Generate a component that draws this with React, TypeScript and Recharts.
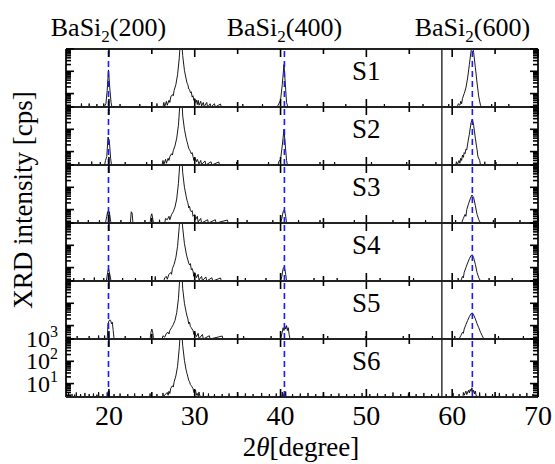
import React from 'react'
import { LineChart, Line, XAxis, YAxis, ReferenceLine } from 'recharts'

// XRD scans, [2theta (deg), intensity (cps)]
const S1: [number, number][] = [
  [15.2, 2.5], [16.0, 2.5], [16.76, 2.5], [16.8, 3.6], [16.84, 2.5], [17.66, 2.5], [17.7, 3.6], [17.74, 2.5], [18.56, 2.5], [18.6, 3.4],
  [18.64, 2.5], [19.36, 2.5], [19.4, 3.6], [19.44, 2.5], [19.65, 3.5], [19.8, 14], [19.95, 115], [20.1, 18], [20.25, 4], [20.35, 2.5],
  [21.26, 2.5], [21.3, 3.4], [21.34, 2.5], [23.56, 2.5], [23.6, 3.4], [23.64, 2.5], [25.56, 2.5], [25.6, 3.6], [25.64, 2.5],
  [26.3, 2.5], [26.4, 4], [26.5, 2.6], [26.7, 4.5], [26.8, 3], [27.0, 5], [27.1, 4], [27.2, 7], [27.4, 9], [27.5, 8], [27.6, 14],
  [27.8, 25], [28.0, 70], [28.2, 400], [28.4, 6000], [28.6, 500], [28.8, 110], [29.0, 45], [29.1, 30], [29.2, 25], [29.3, 16],
  [29.4, 15], [29.5, 11], [29.6, 12], [29.7, 7], [29.8, 8], [29.9, 5], [30.0, 6], [30.1, 4], [30.2, 5], [30.3, 3.2], [30.4, 5],
  [30.5, 3], [30.7, 4.5], [30.8, 2.8], [31.0, 4], [31.1, 2.6], [31.4, 4], [31.5, 2.5], [31.8, 3.5], [31.9, 2.5], [32.3, 3.5],
  [32.4, 2.5], [33.0, 3.4], [33.1, 2.5], [35.56, 2.5], [35.6, 3.4], [35.64, 2.5], [37.86, 2.5], [37.9, 3.4], [37.94, 2.5],
  [39.6, 2.5], [39.8, 3.5], [40.0, 5], [40.2, 25], [40.4, 200], [40.55, 30], [40.7, 4], [40.85, 2.5], [43.06, 2.5], [43.1, 3.4],
  [43.14, 2.5], [47.56, 2.5], [47.6, 3.4], [47.64, 2.5], [52.06, 2.5], [52.1, 3.4], [52.14, 2.5], [56.56, 2.5], [56.6, 3.4],
  [56.64, 2.5], [59.56, 2.5], [59.6, 3.4], [59.64, 2.5], [60.6, 2.5], [60.7, 3.5], [60.9, 3], [61.0, 4.5], [61.1, 3.5], [61.2, 6],
  [61.4, 10], [61.6, 18], [61.8, 50], [62.0, 200], [62.2, 800], [62.35, 1500], [62.5, 700], [62.7, 150], [62.9, 30], [63.1, 7],
  [63.3, 3], [63.5, 2.5], [64.56, 2.5], [64.6, 3.4], [64.64, 2.5], [66.56, 2.5], [66.6, 3.4], [66.64, 2.5], [69.8, 2.5],
]

const S2: [number, number][] = [
  [15.2, 2.5], [16.46, 2.5], [16.5, 3.4], [16.54, 2.5], [17.96, 2.5], [18.0, 3.6], [18.04, 2.5], [18.96, 2.5], [19.0, 3.4], [19.04, 2.5],
  [19.5, 2.5], [19.6, 4], [19.75, 6], [19.9, 45], [20.05, 30], [20.2, 5], [20.3, 2.5], [21.86, 2.5], [21.9, 3.4], [21.94, 2.5],
  [24.36, 2.5], [24.4, 3.4], [24.44, 2.5], [26.2, 2.5], [26.3, 4], [26.4, 2.6], [26.6, 4.5], [26.7, 3], [26.9, 5], [27.0, 4],
  [27.1, 6], [27.3, 8], [27.4, 7], [27.5, 11], [27.7, 18], [27.9, 40], [28.1, 150], [28.3, 2000], [28.45, 6000], [28.6, 400],
  [28.8, 100], [29.0, 40], [29.1, 28], [29.2, 20], [29.3, 14], [29.4, 12], [29.5, 10], [29.6, 8], [29.7, 9], [29.8, 6], [29.9, 4],
  [30.0, 5.5], [30.2, 3.5], [30.3, 4.5], [30.5, 2.8], [30.7, 4], [30.8, 2.6], [31.2, 3.8], [31.3, 2.5], [31.9, 3.5], [32.0, 2.5],
  [32.8, 3.4], [32.9, 2.5], [34.86, 2.5], [34.9, 3.4], [34.94, 2.5], [38.56, 2.5], [38.6, 3.4], [38.64, 2.5], [39.7, 2.5], [39.8, 3.5],
  [40.0, 4.5], [40.2, 18], [40.4, 100], [40.55, 20], [40.7, 4], [40.8, 2.5], [44.56, 2.5], [44.6, 3.4], [44.64, 2.5], [46.26, 2.5],
  [46.3, 3.4], [46.34, 2.5], [50.56, 2.5], [50.6, 3.4], [50.64, 2.5], [54.66, 2.5], [54.7, 3.4], [54.74, 2.5], [58.06, 2.5], [58.1, 3.4],
  [58.14, 2.5], [60.4, 2.5], [60.5, 3.5], [60.6, 2.6], [60.8, 4], [60.9, 3], [61.0, 5], [61.1, 4], [61.2, 7], [61.3, 5.5], [61.4, 9],
  [61.5, 8], [61.6, 13], [61.7, 12], [61.8, 22], [62.0, 60], [62.2, 200], [62.35, 290], [62.5, 150], [62.7, 40], [62.9, 12],
  [63.0, 6], [63.2, 4], [63.3, 2.5], [63.76, 2.5], [63.8, 3.5], [63.84, 2.5], [65.06, 2.5], [65.1, 3.4], [65.14, 2.5], [67.56, 2.5],
  [67.6, 3.4], [67.64, 2.5], [69.8, 2.5],
]

const S3: [number, number][] = [
  [15.2, 2.5], [16.36, 2.5], [16.4, 3.4], [16.44, 2.5], [17.56, 2.5], [17.6, 3.4], [17.64, 2.5], [18.86, 2.5], [18.9, 3.4], [18.94, 2.5],
  [19.6, 2.5], [19.75, 5], [19.85, 8], [19.95, 4], [20.05, 8], [20.2, 3], [20.3, 2.5], [21.36, 2.5], [21.4, 3.4], [21.44, 2.5],
  [22.5, 2.5], [22.6, 8], [22.7, 7], [22.8, 2.5], [24.16, 2.5], [24.2, 3.4], [24.24, 2.5], [24.8, 2.5], [24.9, 5], [25.0, 6.5],
  [25.1, 4], [25.2, 2.5], [25.86, 2.5], [25.9, 3.5], [25.94, 2.5], [26.5, 2.5], [26.6, 4], [26.8, 3.5], [27.0, 5], [27.1, 3.5],
  [27.3, 6], [27.5, 8], [27.7, 13], [27.9, 30], [28.1, 150], [28.3, 2000], [28.45, 6000], [28.6, 450], [28.8, 100], [29.0, 40],
  [29.1, 26], [29.2, 20], [29.3, 12], [29.4, 14], [29.5, 9], [29.6, 8], [29.7, 9], [29.8, 5], [30.0, 6], [30.1, 3.5], [30.3, 5],
  [30.4, 2.8], [30.7, 4], [30.8, 2.5], [31.5, 3.5], [31.6, 2.5], [32.4, 3.5], [32.5, 2.5], [33.8, 3.4], [33.9, 2.5], [36.06, 2.5],
  [36.1, 3.4], [36.14, 2.5], [39.06, 2.5], [39.1, 3.4], [39.14, 2.5], [40.0, 2.5], [40.15, 4], [40.3, 8], [40.45, 10], [40.6, 5],
  [40.7, 2.5], [42.06, 2.5], [42.1, 3.4], [42.14, 2.5], [44.56, 2.5], [44.6, 3.4], [44.64, 2.5], [48.56, 2.5], [48.6, 3.4], [48.64, 2.5],
  [53.06, 2.5], [53.1, 3.4], [53.14, 2.5], [56.86, 2.5], [56.9, 3.4], [56.94, 2.5], [60.36, 2.5], [60.4, 3.4], [60.44, 2.5],
  [61.1, 2.5], [61.3, 4], [61.5, 6], [61.6, 5], [61.7, 10], [61.9, 18], [62.1, 30], [62.3, 45], [62.5, 35], [62.7, 15], [62.9, 6],
  [63.1, 3.5], [63.3, 2.5], [64.76, 2.5], [64.8, 3.4], [64.84, 2.5], [67.86, 2.5], [67.9, 3.4], [67.94, 2.5], [69.8, 2.5],
]

const S4: [number, number][] = [
  [15.2, 2.5], [15.86, 2.5], [15.9, 3.4], [15.94, 2.5], [17.06, 2.5], [17.1, 3.4], [17.14, 2.5], [18.26, 2.5], [18.3, 3.6], [18.34, 2.5],
  [19.36, 2.5], [19.4, 3.4], [19.44, 2.5], [19.7, 2.5], [19.85, 6], [19.95, 9], [20.1, 5], [20.25, 2.5], [21.56, 2.5], [21.6, 3.4],
  [21.64, 2.5], [23.06, 2.5], [23.1, 3.4], [23.14, 2.5], [25.36, 2.5], [25.4, 4], [25.44, 2.5], [26.4, 2.5], [26.5, 3.5], [26.7, 4],
  [26.8, 3], [27.0, 5], [27.2, 6], [27.3, 5], [27.4, 9], [27.6, 14], [27.8, 28], [28.0, 90], [28.2, 700], [28.4, 6000], [28.6, 600],
  [28.8, 120], [29.0, 45], [29.1, 30], [29.2, 22], [29.3, 16], [29.4, 13], [29.5, 15], [29.6, 8], [29.7, 9], [29.8, 7], [29.9, 4],
  [30.0, 6], [30.2, 3.5], [30.4, 5], [30.5, 2.8], [30.8, 4], [30.9, 2.6], [31.3, 3.8], [31.4, 2.5], [32.0, 3.5], [32.1, 2.5],
  [33.0, 3.4], [33.1, 2.5], [35.86, 2.5], [35.9, 3.4], [35.94, 2.5], [38.26, 2.5], [38.3, 3.4], [38.34, 2.5], [40.0, 2.5], [40.15, 4],
  [40.3, 9], [40.45, 11], [40.6, 5], [40.7, 2.5], [43.86, 2.5], [43.9, 3.4], [43.94, 2.5], [46.56, 2.5], [46.6, 3.4], [46.64, 2.5],
  [51.56, 2.5], [51.6, 3.4], [51.64, 2.5], [55.46, 2.5], [55.5, 3.4], [55.54, 2.5], [60.66, 2.5], [60.7, 3.4], [60.74, 2.5],
  [61.0, 2.5], [61.2, 4], [61.3, 3.5], [61.4, 6], [61.6, 10], [61.8, 16], [62.0, 25], [62.2, 35], [62.35, 37], [62.5, 28], [62.7, 14],
  [62.9, 6], [63.1, 3.5], [63.3, 2.5], [64.26, 2.5], [64.3, 3.4], [64.34, 2.5], [66.96, 2.5], [67.0, 3.4], [67.04, 2.5], [69.8, 2.5],
]

const S5: [number, number][] = [
  [15.2, 2.5], [16.26, 2.5], [16.3, 3.4], [16.34, 2.5], [17.66, 2.5], [17.7, 3.4], [17.74, 2.5], [18.76, 2.5], [18.8, 3.6], [18.84, 2.5],
  [19.46, 2.5], [19.5, 3.6], [19.54, 2.5], [19.8, 2.5], [19.9, 12], [20.0, 16], [20.1, 18], [20.2, 17], [20.3, 12], [20.4, 14],
  [20.5, 6], [20.6, 2.5], [21.86, 2.5], [21.9, 3.4], [21.94, 2.5], [23.66, 2.5], [23.7, 3.4], [23.74, 2.5], [24.8, 2.5], [24.9, 5],
  [25.0, 7], [25.1, 5], [25.2, 2.5], [26.2, 2.5], [26.3, 3.5], [26.5, 3], [26.7, 4.5], [26.9, 5], [27.0, 4.2], [27.1, 6], [27.3, 8],
  [27.5, 11], [27.7, 17], [27.9, 38], [28.1, 160], [28.3, 2500], [28.45, 6000], [28.6, 450], [28.8, 100], [29.0, 40], [29.1, 27],
  [29.2, 20], [29.3, 12], [29.4, 14], [29.5, 9], [29.6, 8], [29.8, 6], [29.9, 4], [30.0, 5], [30.2, 3.2], [30.4, 4.5], [30.5, 2.6],
  [30.9, 4], [31.0, 2.5], [31.7, 3.5], [31.8, 2.5], [33.2, 3.4], [33.3, 2.5], [35.66, 2.5], [35.7, 3.4], [35.74, 2.5], [38.86, 2.5],
  [38.9, 3.4], [38.94, 2.5], [40.0, 2.5], [40.2, 5], [40.3, 8], [40.4, 6], [40.5, 9], [40.6, 7], [40.7, 10], [40.8, 6], [40.9, 8],
  [41.0, 4], [41.1, 2.5], [42.56, 2.5], [42.6, 3.4], [42.64, 2.5], [45.46, 2.5], [45.5, 3.4], [45.54, 2.5], [49.86, 2.5], [49.9, 3.4],
  [49.94, 2.5], [54.26, 2.5], [54.3, 3.4], [54.34, 2.5], [57.66, 2.5], [57.7, 3.4], [57.74, 2.5], [60.26, 2.5], [60.3, 3.4],
  [60.34, 2.5], [60.8, 2.5], [61.0, 3.5], [61.2, 5], [61.3, 4.5], [61.4, 7], [61.6, 11], [61.8, 17], [62.0, 25], [62.2, 34],
  [62.35, 37], [62.5, 30], [62.7, 20], [62.9, 12], [63.1, 8], [63.3, 5], [63.5, 3.5], [63.7, 2.5], [65.36, 2.5], [65.4, 3.4],
  [65.44, 2.5], [68.26, 2.5], [68.3, 3.4], [68.34, 2.5], [69.8, 2.5],
]

const S6: [number, number][] = [
  [15.1, 2.5], [15.26, 2.5], [15.3, 3.8], [15.34, 2.5], [15.66, 2.5], [15.7, 3.4], [15.74, 2.5], [15.96, 2.5], [16.0, 3.2], [16.04, 2.5],
  [16.16, 2.5], [16.2, 4], [16.24, 2.5], [16.66, 2.5], [16.7, 3.4], [16.74, 2.5], [17.16, 2.5], [17.2, 3.8], [17.24, 2.5], [17.66, 2.5],
  [17.7, 3.4], [17.74, 2.5], [18.16, 2.5], [18.2, 3.6], [18.24, 2.5], [18.56, 2.5], [18.6, 3.2], [18.64, 2.5], [18.76, 2.5], [18.8, 4.2],
  [18.84, 2.5], [19.26, 2.5], [19.3, 3.4], [19.34, 2.5], [19.76, 2.5], [19.8, 4], [19.84, 2.5], [19.96, 2.5], [20.0, 4.6], [20.04, 2.5],
  [20.56, 2.5], [20.6, 3.4], [20.64, 2.5], [21.26, 2.5], [21.3, 3.6], [21.34, 2.5], [22.16, 2.5], [22.2, 3.4], [22.24, 2.5], [22.96, 2.5],
  [23.0, 3.6], [23.04, 2.5], [23.86, 2.5], [23.9, 3.4], [23.94, 2.5], [24.76, 2.5], [24.8, 3.6], [24.84, 2.5], [25.56, 2.5], [25.6, 3.4],
  [25.64, 2.5], [26.26, 2.5], [26.3, 3.8], [26.34, 2.6], [26.8, 4], [26.9, 3], [27.0, 4.5], [27.1, 3.6], [27.2, 6], [27.4, 8],
  [27.5, 7], [27.6, 12], [27.8, 22], [28.0, 60], [28.2, 400], [28.4, 6000], [28.6, 500], [28.8, 110], [29.0, 40], [29.1, 28],
  [29.2, 20], [29.3, 14], [29.4, 12], [29.5, 9], [29.6, 8], [29.7, 7], [29.8, 6], [29.9, 4], [30.0, 4.5], [30.1, 5], [30.2, 3],
  [30.3, 3.6], [30.4, 2.8], [30.5, 4.2], [30.6, 2.7], [30.96, 2.6], [31.0, 4], [31.04, 2.5], [31.56, 2.5], [31.6, 3.6], [31.64, 2.5],
  [32.26, 2.5], [32.3, 3.4], [32.34, 2.5], [33.16, 2.5], [33.2, 3.4], [33.24, 2.5], [33.96, 2.5], [34.0, 3.6], [34.04, 2.5],
  [34.96, 2.5], [35.0, 3.4], [35.04, 2.5], [35.86, 2.5], [35.9, 3.6], [35.94, 2.5], [36.76, 2.5], [36.8, 3.4], [36.84, 2.5],
  [37.76, 2.5], [37.8, 3.8], [37.84, 2.5], [38.66, 2.5], [38.7, 3.4], [38.74, 2.5], [39.46, 2.5], [39.5, 3.6], [39.54, 2.5],
  [40.16, 2.5], [40.2, 4.2], [40.24, 2.5], [40.36, 2.5], [40.4, 3.6], [40.44, 2.5], [40.56, 2.5], [40.6, 4.4], [40.64, 2.5],
  [41.36, 2.5], [41.4, 3.4], [41.44, 2.5], [42.26, 2.5], [42.3, 3.6], [42.34, 2.5], [43.16, 2.5], [43.2, 3.8], [43.24, 2.5],
  [44.06, 2.5], [44.1, 3.4], [44.14, 2.5], [44.96, 2.5], [45.0, 4], [45.04, 2.5], [45.86, 2.5], [45.9, 3.4], [45.94, 2.5],
  [46.76, 2.5], [46.8, 3.6], [46.84, 2.5], [47.66, 2.5], [47.7, 3.4], [47.74, 2.5], [48.56, 2.5], [48.6, 3.4], [48.64, 2.5],
  [49.46, 2.5], [49.5, 3.8], [49.54, 2.5], [50.36, 2.5], [50.4, 3.4], [50.44, 2.5], [51.26, 2.5], [51.3, 3.6], [51.34, 2.5],
  [52.16, 2.5], [52.2, 3.4], [52.24, 2.5], [53.06, 2.5], [53.1, 4], [53.14, 2.5], [53.96, 2.5], [54.0, 3.4], [54.04, 2.5],
  [54.86, 2.5], [54.9, 3.6], [54.94, 2.5], [55.76, 2.5], [55.8, 3.4], [55.84, 2.5], [56.66, 2.5], [56.7, 3.8], [56.74, 2.5],
  [57.56, 2.5], [57.6, 3.4], [57.64, 2.5], [58.36, 2.5], [58.4, 3.6], [58.44, 2.5], [59.26, 2.5], [59.3, 3.4], [59.34, 2.5],
  [60.06, 2.5], [60.1, 3.8], [60.14, 2.5], [60.76, 2.5], [60.8, 3.4], [60.84, 2.5], [61.26, 2.5], [61.3, 4], [61.4, 3], [61.6, 4.6],
  [61.7, 3.2], [61.9, 5], [62.0, 3.8], [62.1, 5.5], [62.2, 4.5], [62.3, 6.5], [62.4, 4], [62.5, 5], [62.6, 3.4], [62.7, 4.6],
  [62.8, 2.8], [63.16, 2.5], [63.2, 4], [63.24, 2.5], [63.86, 2.5], [63.9, 3.6], [63.94, 2.5], [64.66, 2.5], [64.7, 3.4], [64.74, 2.5],
  [65.46, 2.5], [65.5, 3.8], [65.54, 2.5], [66.26, 2.5], [66.3, 3.4], [66.34, 2.5], [67.06, 2.5], [67.1, 3.6], [67.14, 2.5],
  [67.86, 2.5], [67.9, 3.4], [67.94, 2.5], [68.66, 2.5], [68.7, 3.8], [68.74, 2.5], [69.36, 2.5], [69.4, 3.4], [69.44, 2.5], [69.9, 2.5],
]

const samples = [S1, S2, S3, S4, S5, S6]
const sampleNames = ['S1', 'S2', 'S3', 'S4', 'S5', 'S6']

const xTicks = [20, 25, 30, 35, 40, 45, 50, 55, 60, 65, 70]
const yTicks = [3, 4, 5, 6, 7, 8, 9, 10, 20, 30, 40, 50, 60, 70, 80, 90, 100, 200, 300, 400, 500, 600, 700, 800, 900, 1000]
const yMajor = [10, 100, 1000]
const basi2Peaks = [19.95, 40.45, 62.35]
const basi2Planes = ['(200)', '(400)', '(600)']
const substrateLine = 58.8

const X_MIN = 15
const X_MAX = 70
const Y_MIN = 2.5
const Y_MAX = 1000

const W = 555
const H = 464
const PLOT_LEFT = 66
const PLOT_RIGHT = 538
const PLOT_W = PLOT_RIGHT - PLOT_LEFT
const PANEL_TOP = 49
const PANEL_H = 58
const SERIF = '"Liberation Serif", "Times New Roman", Times, serif'
const AXIS = { stroke: '#222', strokeWidth: 2 }
const TICK = { stroke: '#000', strokeWidth: 1.6 }

const xPx = (v: number) => PLOT_LEFT + ((v - X_MIN) / (X_MAX - X_MIN)) * PLOT_W

// bottom axis draws the inward ticks of both the bottom and the top edge
const xTick = (labels: boolean) => (p: any) => {
  const v = p.payload.value
  const len = v % 10 === 0 ? 8 : 5
  const top = p.y - PANEL_H
  return (
    <g>
      <line x1={p.x} y1={p.y} x2={p.x} y2={p.y - len} {...TICK} />
      <line x1={p.x} y1={top} x2={p.x} y2={top + len} {...TICK} />
      {labels && v % 10 === 0 && (
        <text x={p.x} y={p.y + 28} textAnchor="middle" fontFamily={SERIF} fontSize={28} fill="#000">
          {v}
        </text>
      )}
    </g>
  )
}

// left axis draws the inward ticks of both the left and the right edge
const yTick = (labels: boolean) => (p: any) => {
  const v = p.payload.value
  const len = yMajor.includes(v) ? 8 : 5
  const right = p.x + PLOT_W
  return (
    <g>
      <line x1={p.x} y1={p.y} x2={p.x + len} y2={p.y} {...TICK} />
      <line x1={right} y1={p.y} x2={right - len} y2={p.y} {...TICK} />
      {labels && yMajor.includes(v) && (
        <text x={p.x - 8} y={p.y + 8} textAnchor="end" fontFamily={SERIF} fontSize={24} fill="#000">
          10
          <tspan dy={-10} fontSize={16}>
            {Math.round(Math.log10(v))}
          </tspan>
        </text>
      )}
    </g>
  )
}

function Panel({ data, index }: { data: [number, number][]; index: number }) {
  const last = index === samples.length - 1
  const extraTop = last ? 24 : 0
  const extraBottom = last ? 70 : 0
  const rows = data.map(([x, y]) => ({ x, y }))
  return (
    <div style={{ position: 'absolute', left: 0, top: PANEL_TOP + index * PANEL_H - 1 - extraTop }}>
      <LineChart
        width={W}
        height={PANEL_H + 2 + extraTop + extraBottom}
        data={rows}
        margin={{ top: extraTop, right: W - PLOT_RIGHT - 1, bottom: extraBottom, left: PLOT_LEFT - 1 }}
      >
        <XAxis
          xAxisId="b"
          orientation="bottom"
          type="number"
          dataKey="x"
          domain={[X_MIN, X_MAX]}
          ticks={xTicks}
          interval={0}
          height={1}
          tickSize={0}
          tickMargin={0}
          tickLine={false}
          axisLine={AXIS}
          tick={xTick(last)}
          allowDataOverflow
        />
        <XAxis
          xAxisId="t"
          orientation="top"
          type="number"
          domain={[X_MIN, X_MAX]}
          height={1}
          tick={false}
          tickLine={false}
          axisLine={AXIS}
          allowDataOverflow
        />
        <YAxis
          yAxisId="l"
          orientation="left"
          type="number"
          scale="log"
          domain={[Y_MIN, Y_MAX]}
          ticks={yTicks}
          interval={0}
          width={1}
          tickSize={0}
          tickMargin={0}
          tickLine={false}
          axisLine={AXIS}
          tick={yTick(last)}
          allowDataOverflow
        />
        <YAxis
          yAxisId="r"
          orientation="right"
          type="number"
          scale="log"
          domain={[Y_MIN, Y_MAX]}
          width={1}
          tick={false}
          tickLine={false}
          axisLine={AXIS}
          allowDataOverflow
        />
        <ReferenceLine xAxisId="b" yAxisId="l" x={substrateLine} stroke="#000" strokeWidth={1.2} />
        <Line
          xAxisId="b"
          yAxisId="l"
          type="linear"
          dataKey="y"
          stroke="#000"
          strokeWidth={0.9}
          dot={false}
          isAnimationActive={false}
        />
        {basi2Peaks.map((p) => (
          <ReferenceLine
            key={p}
            xAxisId="b"
            yAxisId="l"
            x={p}
            stroke="#1a1aff"
            strokeWidth={1.6}
            strokeDasharray="6 4"
          />
        ))}
      </LineChart>
    </div>
  )
}

export default function App() {
  return (
    <div style={{ position: 'absolute', left: 0, top: 0, width: W, height: H, background: '#fff' }}>
      {samples.map((s, i) => (
        <Panel key={sampleNames[i]} data={s} index={i} />
      ))}
      <svg
        width={W}
        height={H}
        style={{ position: 'absolute', left: 0, top: 0, pointerEvents: 'none', fontFamily: SERIF }}
        fill="#000"
      >
        {basi2Peaks.map((p, i) => (
          <text key={p} x={xPx(p)} y={36} textAnchor="middle" fontSize={26}>
            BaSi
            <tspan dy={6} fontSize={17}>
              2
            </tspan>
            <tspan dy={-6}>{basi2Planes[i]}</tspan>
          </text>
        ))}
        {sampleNames.map((n, i) => (
          <text key={n} x={xPx(50)} y={PANEL_TOP + i * PANEL_H + 31} textAnchor="middle" fontSize={27}>
            {n}
          </text>
        ))}
        <text transform="translate(32,200) rotate(-90)" textAnchor="middle" fontSize={27}>
          XRD intensity [cps]
        </text>
        <text x={301} y={456} textAnchor="middle" fontSize={27}>
          2<tspan fontStyle="italic">θ</tspan>[degree]
        </text>
      </svg>
    </div>
  )
}
